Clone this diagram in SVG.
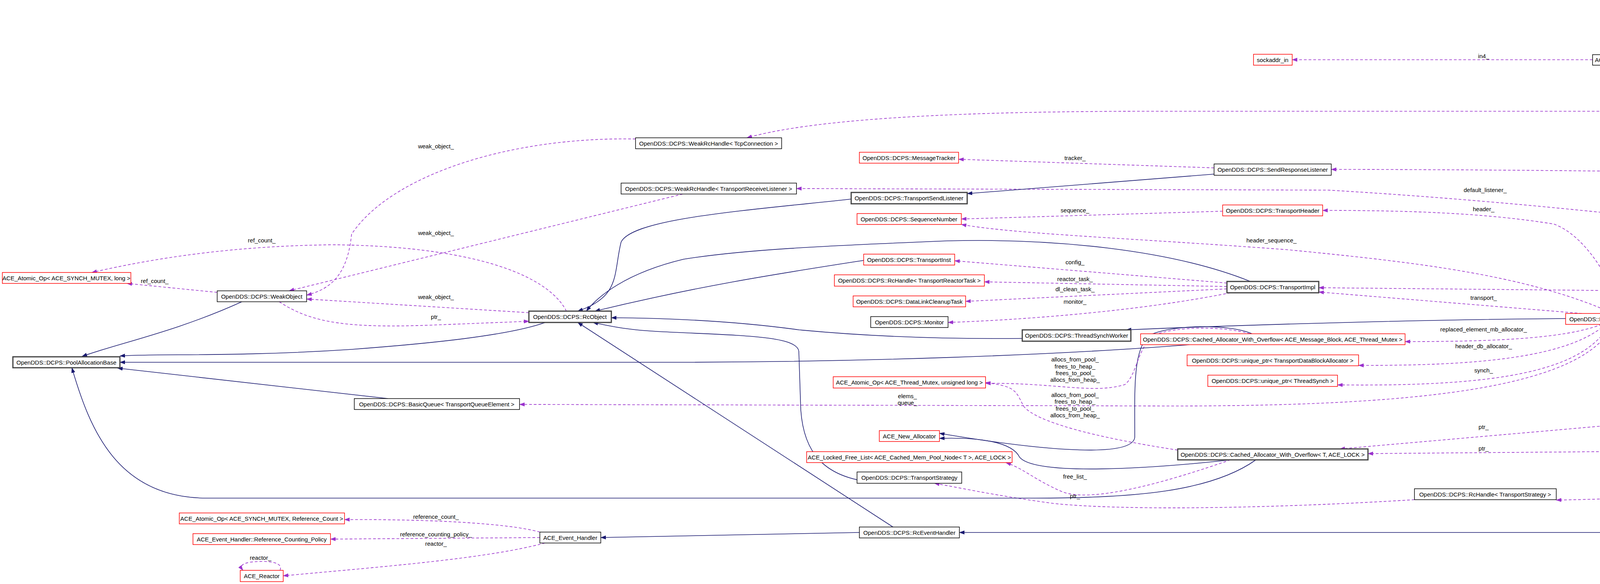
<svg xmlns="http://www.w3.org/2000/svg" width="6928" height="1496" viewBox="0 0 6928 1496">
<style>
.n rect{fill:#fff;stroke:#000;stroke-width:1.5}
.n.r rect{stroke:#ff0000}
.n.g rect{stroke:#404040;stroke-width:3}
.n.m rect{fill:#bfbfbf;stroke:#404040;stroke-width:2}
.n.l rect{stroke:#bfbfbf}
text{font-family:"Liberation Sans",Arial,sans-serif;font-size:15px;fill:#000;text-anchor:middle;dominant-baseline:central}
.e path{fill:none}
.u{stroke:#9a32cd;stroke-width:1.6;stroke-dasharray:7,5;marker-end:url(#ap)}
.i{stroke:#191970;stroke-width:1.6;marker-end:url(#ab)}
</style>
<defs>
<marker id="ap" markerWidth="14" markerHeight="10" refX="13" refY="5" orient="auto" markerUnits="userSpaceOnUse"><path d="M0,0 L14,5 L0,10 z" fill="#9a32cd"/></marker>
<marker id="ab" markerWidth="14" markerHeight="10" refX="13" refY="5" orient="auto" markerUnits="userSpaceOnUse"><path d="M0,0 L14,5 L0,10 z" fill="#191970"/></marker>
</defs>
<rect width="6928" height="1496" fill="#fff"/>
<g class="e" id="edges">
<path class="u" d="M6559,320 L6326,286"/>
<path class="i" d="M6559,316 L6009,354"/>
<path class="u" d="M6175,271 C6100,200 5950,140 5592,88"/>
<path class="u" d="M6098,274 L5589,213"/>
<path class="u" d="M6098,285 L2950,285 C2500,285 2100,300 1912,353"/>
<path class="i" d="M6098,295 C5760,330 5700,340 5680,370 C5600,500 5540,650 5527,743"/>
<path class="i" d="M5386,59 L5069,30"/>
<path class="i" d="M5464,203 L4999,182"/>
<path class="u" d="M5480,192 C5300,100 5100,90 4955,95 C4600,95 4400,120 4239,140"/>
<path class="u" d="M5464,218 C5400,245 5250,245 5053,240"/>
<path class="u" d="M4860,222 L4239,162"/>
<path class="u" d="M4077,153 L3308,153"/>
<path class="u" d="M4990,166 C5010,130 4910,130 4925,166"/>
<path class="u" d="M5010,382 C5030,345 4890,345 4905,382"/>
<path class="u" d="M5715,354 C5400,360 5150,365 5023,386"/>
<path class="u" d="M5525,743 C5500,600 5420,420 5200,410 L5023,400"/>
<path class="u" d="M5515,743 C5480,620 5400,470 5200,440 L5023,405"/>
<path class="u" d="M5440,743 C5300,600 5200,470 5150,457 C4500,440 3800,434 3408,434"/>
<path class="u" d="M5440,743 C5200,680 4300,540 3400,487 L2039,483"/>
<path class="u" d="M5423,757 L3376,737"/>
<path class="u" d="M5423,765 L5154,787"/>
<path class="u" d="M5470,771 C5200,880 4700,950 4535,1043"/>
<path class="u" d="M5500,771 C5350,950 5000,1100 4535,1139"/>
<path class="u" d="M5515,771 C5400,1000 5200,1260 3984,1281"/>
<path class="u" d="M5630,755 L6467,758"/>
<path class="u" d="M6034,791 L5630,766"/>
<path class="u" d="M6520,775 L6388,786"/>
<path class="i" d="M5520,771 C5450,1100 5200,1364 4962,1364 L2456,1364"/>
<path class="u" d="M4760,805 L4308,815"/>
<path class="u" d="M4050,803 L3376,748"/>
<path class="u" d="M4150,803 C4120,700 4050,600 3978,574 C3800,545 3600,539 3386,539"/>
<path class="u" d="M4130,803 C3900,700 3600,670 3300,640 C2900,610 2600,600 2461,575"/>
<path class="u" d="M4100,831 C4000,870 3800,875 3597,875"/>
<path class="u" d="M4110,831 C4000,930 3700,936 3478,936"/>
<path class="u" d="M4120,831 C4050,960 3800,990 3424,986"/>
<path class="u" d="M4130,831 C4050,1000 3600,1040 3000,1040 L1330,1036"/>
<path class="i" d="M4008,816 C3500,820 3000,840 2883,845"/>
<path class="u" d="M4346,1070 L3430,1150"/>
<path class="u" d="M4333,1155 L3502,1162"/>
<path class="i" d="M3150,1178 C2950,1200 2650,1220 2610,1171 C2590,1130 2500,1120 2405,1123"/>
<path class="i" d="M3205,855 C3150,830 3000,830 2940,860 C2900,900 2905,1000 2905,1120 C2900,1170 2700,1160 2405,1110"/>
<path class="u" d="M3015,1153 C2800,1120 2650,1080 2620,1040 C2600,1000 2600,990 2523,980"/>
<path class="u" d="M3200,855 C3130,835 3010,835 2950,860 C2910,900 2910,960 2880,985 C2800,1010 2700,980 2523,982"/>
<path class="u" d="M3150,1178 C3000,1230 2800,1290 2720,1260 C2650,1230 2620,1200 2575,1185"/>
<path class="u" d="M3621,1280 C3300,1300 2900,1310 2700,1290 C2550,1270 2460,1250 2392,1238"/>
<path class="i" d="M3215,1178 C3100,1260 2900,1276 2650,1276 L530,1276 C300,1276 230,1100 184,942"/>
<path class="i" d="M3045,883 C2700,910 2200,928 1700,928 L307,928"/>
<path class="i" d="M3108,446 L2476,496"/>
<path class="u" d="M3108,430 L2454,408"/>
<path class="u" d="M3130,541 L2461,561"/>
<path class="u" d="M3141,725 L2444,668"/>
<path class="u" d="M3141,734 L2520,722"/>
<path class="u" d="M3141,740 L2472,772"/>
<path class="u" d="M3150,750 C2900,800 2600,820 2427,826"/>
<path class="i" d="M3201,721 C3000,640 2700,610 2425,617 C2100,630 1900,640 1750,664 C1600,700 1530,760 1501,797"/>
<path class="i" d="M2179,510 C1900,540 1620,560 1590,620 C1570,700 1590,760 1479,797"/>
<path class="i" d="M2211,667 C2000,700 1800,730 1523,797"/>
<path class="i" d="M2617,867 C2300,870 2100,850 2046,845 C1900,825 1750,815 1565,814"/>
<path class="i" d="M2258,1237 C2100,1230 2057,1150 2050,1050 L2045,900 C2040,860 1900,860 1700,850 C1600,845 1560,835 1518,826"/>
<path class="i" d="M2286,1350 L1479,826"/>
<path class="i" d="M1396,826 C1300,860 1100,880 900,895 C600,915 400,905 307,912"/>
<path class="i" d="M619,773 C450,850 300,880 210,913"/>
<path class="i" d="M993,1021 L301,943"/>
<path class="i" d="M2200,1364 L1538,1377"/>
<path class="u" d="M1382,1363 C1300,1340 1100,1330 882,1331"/>
<path class="u" d="M1382,1377 L846,1381"/>
<path class="u" d="M1395,1391 C1250,1430 1000,1450 725,1475"/>
<path class="u" d="M717,1461 C725,1440 690,1435 640,1440 C615,1445 615,1452 622,1461"/>
<path class="u" d="M1354,801 L785,766"/>
<path class="u" d="M715,773 C800,830 900,840 1100,833 L1354,823"/>
<path class="u" d="M556,749 L325,726"/>
<path class="u" d="M1450,797 C1400,700 1200,630 850,627 C600,630 400,660 235,698"/>
<path class="u" d="M1627,356 C1300,350 1000,450 900,600 C890,700 850,740 785,756"/>
<path class="u" d="M1748,497 L740,745"/>
</g>
<g id="labels">
<text x="6423" y="291">link_</text>
<text x="5861" y="114">release_is_pending_</text>
<text x="5861" y="220">remote_address_</text>
<text x="4154" y="275">connection_</text>
<text x="4955" y="86">inet_addr_</text>
<text x="5258" y="210">inet_addrs_iter_</text>
<text x="5258" y="227">inet_addrs_</text>
<text x="4534" y="163">elements</text>
<text x="3798" y="143">in4_</text>
<text x="4957" y="131">sap_any</text>
<text x="4957" y="330">max_time</text>
<text x="4957" y="347">zero</text>
<text x="5258" y="352">timeout_</text>
<text x="5258" y="383">scheduled_to_stop_at_</text>
<text x="5258" y="400">datalink_release_delay_</text>
<text x="4534" y="428">send_response_listener_</text>
<text x="3802" y="486">default_listener_</text>
<text x="3798" y="535">header_</text>
<text x="4531" y="734">impl_</text>
<text x="5258" y="762">send_strategy_</text>
<text x="4955" y="864">db_allocator_</text>
<text x="4955" y="999">mb_allocator_</text>
<text x="4534" y="1227">receive_strategy_</text>
<text x="6208" y="743">thr_per_con_send_task_</text>
<text x="5861" y="764">link_</text>
<text x="6425" y="771">ptr_</text>
<text x="4534" y="795">ptr_</text>
<text x="3798" y="762">transport_</text>
<text x="3255" y="615">header_sequence_</text>
<text x="3798" y="843">replaced_element_mb_allocator_</text>
<text x="3798" y="886">header_db_allocator_</text>
<text x="3798" y="948">synch_</text>
<text x="2323" y="1014">elems_</text>
<text x="2323" y="1031">queue_</text>
<text x="3798" y="1093">ptr_</text>
<text x="3798" y="1148">ptr_</text>
<text x="2752" y="920">allocs_from_pool_</text>
<text x="2752" y="938">frees_to_heap_</text>
<text x="2752" y="955">frees_to_pool_</text>
<text x="2752" y="972">allocs_from_heap_</text>
<text x="2752" y="1011">allocs_from_pool_</text>
<text x="2752" y="1028">frees_to_heap_</text>
<text x="2752" y="1046">frees_to_pool_</text>
<text x="2752" y="1063">allocs_from_heap_</text>
<text x="2752" y="1220">free_list_</text>
<text x="2752" y="1270">ptr_</text>
<text x="2752" y="404">tracker_</text>
<text x="2752" y="538">sequence_</text>
<text x="2752" y="671">config_</text>
<text x="2752" y="714">reactor_task_</text>
<text x="2752" y="740">dl_clean_task_</text>
<text x="2752" y="772">monitor_</text>
<text x="1116" y="1323">reference_count_</text>
<text x="1116" y="1368">reference_counting_policy_</text>
<text x="1116" y="1392">reactor_</text>
<text x="667" y="1428">reactor_</text>
<text x="1116" y="760">weak_object_</text>
<text x="1116" y="811">ptr_</text>
<text x="396" y="719">ref_count_</text>
<text x="670" y="615">ref_count_</text>
<text x="1116" y="374">weak_object_</text>
<text x="1116" y="596">weak_object_</text>
</g>
<g id="n1" class="n r"><rect x="6" y="698" width="329" height="28"/><text x="170" y="712">ACE_Atomic_Op&lt; ACE_SYNCH_MUTEX, long &gt;</text></g>
<g id="n2" class="n"><rect x="556" y="745" width="229" height="28"/><text x="670" y="759">OpenDDS::DCPS::WeakObject</text></g>
<g id="n3" class="n g"><rect x="1354" y="797" width="211" height="29"/><text x="1459" y="811">OpenDDS::DCPS::RcObject</text></g>
<g id="n4" class="n g"><rect x="33" y="914" width="274" height="28"/><text x="170" y="928">OpenDDS::DCPS::PoolAllocationBase</text></g>
<g id="n5" class="n"><rect x="907" y="1021" width="423" height="28"/><text x="1118" y="1035">OpenDDS::DCPS::BasicQueue&lt; TransportQueueElement &gt;</text></g>
<g id="n6" class="n r"><rect x="459" y="1314" width="423" height="28"/><text x="670" y="1328">ACE_Atomic_Op&lt; ACE_SYNCH_MUTEX, Reference_Count &gt;</text></g>
<g id="n7" class="n r"><rect x="494" y="1367" width="352" height="28"/><text x="670" y="1381">ACE_Event_Handler::Reference_Counting_Policy</text></g>
<g id="n8" class="n"><rect x="1382" y="1363" width="156" height="28"/><text x="1460" y="1377">ACE_Event_Handler</text></g>
<g id="n9" class="n r"><rect x="615" y="1461" width="110" height="29"/><text x="670" y="1475">ACE_Reactor</text></g>
<g id="n10" class="n"><rect x="1627" y="353" width="374" height="28"/><text x="1814" y="367">OpenDDS::DCPS::WeakRcHandle&lt; TcpConnection &gt;</text></g>
<g id="n11" class="n"><rect x="1590" y="469" width="449" height="28"/><text x="1814" y="483">OpenDDS::DCPS::WeakRcHandle&lt; TransportReceiveListener &gt;</text></g>
<g id="n12" class="n r"><rect x="2200" y="390" width="254" height="28"/><text x="2327" y="404">OpenDDS::DCPS::MessageTracker</text></g>
<g id="n13" class="n"><rect x="3108" y="420" width="300" height="29"/><text x="3258" y="434">OpenDDS::DCPS::SendResponseListener</text></g>
<g id="n14" class="n g"><rect x="2179" y="493" width="297" height="29"/><text x="2327" y="507">OpenDDS::DCPS::TransportSendListener</text></g>
<g id="n15" class="n r"><rect x="2194" y="547" width="267" height="28"/><text x="2327" y="561">OpenDDS::DCPS::SequenceNumber</text></g>
<g id="n16" class="n r"><rect x="3130" y="525" width="256" height="28"/><text x="3258" y="539">OpenDDS::DCPS::TransportHeader</text></g>
<g id="n17" class="n r"><rect x="2211" y="651" width="233" height="28"/><text x="2327" y="665">OpenDDS::DCPS::TransportInst</text></g>
<g id="n18" class="n r"><rect x="2136" y="704" width="384" height="29"/><text x="2328" y="718">OpenDDS::DCPS::RcHandle&lt; TransportReactorTask &gt;</text></g>
<g id="n19" class="n r"><rect x="2184" y="758" width="288" height="28"/><text x="2328" y="772">OpenDDS::DCPS::DataLinkCleanupTask</text></g>
<g id="n20" class="n"><rect x="2229" y="811" width="198" height="28"/><text x="2328" y="825">OpenDDS::DCPS::Monitor</text></g>
<g id="n21" class="n g"><rect x="3141" y="721" width="235" height="29"/><text x="3258" y="735">OpenDDS::DCPS::TransportImpl</text></g>
<g id="n22" class="n g"><rect x="2617" y="845" width="278" height="29"/><text x="2756" y="859">OpenDDS::DCPS::ThreadSynchWorker</text></g>
<g id="n23" class="n r"><rect x="2920" y="855" width="677" height="28"/><text x="3258" y="869">OpenDDS::DCPS::Cached_Allocator_With_Overflow&lt; ACE_Message_Block, ACE_Thread_Mutex &gt;</text></g>
<g id="n24" class="n r"><rect x="3039" y="909" width="439" height="28"/><text x="3258" y="923">OpenDDS::DCPS::unique_ptr&lt; TransportDataBlockAllocator &gt;</text></g>
<g id="n25" class="n r"><rect x="3092" y="961" width="332" height="29"/><text x="3258" y="975">OpenDDS::DCPS::unique_ptr&lt; ThreadSynch &gt;</text></g>
<g id="n26" class="n r"><rect x="2133" y="965" width="390" height="29"/><text x="2328" y="979">ACE_Atomic_Op&lt; ACE_Thread_Mutex, unsigned long &gt;</text></g>
<g id="n27" class="n r"><rect x="2251" y="1103" width="154" height="28"/><text x="2328" y="1117">ACE_New_Allocator</text></g>
<g id="n28" class="n r"><rect x="2065" y="1157" width="526" height="28"/><text x="2328" y="1171">ACE_Locked_Free_List&lt; ACE_Cached_Mem_Pool_Node&lt; T &gt;, ACE_LOCK &gt;</text></g>
<g id="n29" class="n"><rect x="2194" y="1209" width="268" height="29"/><text x="2328" y="1223">OpenDDS::DCPS::TransportStrategy</text></g>
<g id="n30" class="n g"><rect x="3015" y="1150" width="487" height="28"/><text x="3258" y="1164">OpenDDS::DCPS::Cached_Allocator_With_Overflow&lt; T, ACE_LOCK &gt;</text></g>
<g id="n31" class="n"><rect x="2200" y="1350" width="256" height="28"/><text x="2328" y="1364">OpenDDS::DCPS::RcEventHandler</text></g>
<g id="n32" class="n g"><rect x="4845" y="6" width="224" height="28"/><text x="4957" y="20">ACE_Atomic_Op_GCC&lt; bool &gt;</text></g>
<g id="n33" class="n"><rect x="4077" y="140" width="162" height="27"/><text x="4158" y="153">ACE_INET_Addr::ip46</text></g>
<g id="n34" class="n g"><rect x="4914" y="166" width="85" height="28"/><text x="4956" y="180">ACE_Addr</text></g>
<g id="n35" class="n l"><rect x="4860" y="219" width="193" height="28"/><text x="4956" y="233">std::vector&lt; union ip46 &gt;</text></g>
<g id="n36" class="n g"><rect x="4891" y="382" width="132" height="28"/><text x="4957" y="396">ACE_Time_Value</text></g>
<g id="n37" class="n r"><rect x="4008" y="803" width="300" height="28"/><text x="4158" y="817">OpenDDS::DCPS::TransportSendStrategy</text></g>
<g id="n38" class="n"><rect x="4760" y="787" width="394" height="28"/><text x="4957" y="801">OpenDDS::DCPS::RcHandle&lt; TransportSendStrategy &gt;</text></g>
<g id="n39" class="n"><rect x="4346" y="1043" width="377" height="29"/><text x="4534" y="1057">OpenDDS::DCPS::unique_ptr&lt; DataBlockAllocator &gt;</text></g>
<g id="n40" class="n"><rect x="4333" y="1139" width="403" height="29"/><text x="4534" y="1153">OpenDDS::DCPS::unique_ptr&lt; MessageBlockAllocator &gt;</text></g>
<g id="n41" class="n"><rect x="3621" y="1252" width="363" height="28"/><text x="3802" y="1266">OpenDDS::DCPS::RcHandle&lt; TransportStrategy &gt;</text></g>
<g id="n42" class="n"><rect x="5363" y="59" width="327" height="28"/><text x="5526" y="73">ACE_Atomic_Op&lt; ACE_Thread_Mutex, bool &gt;</text></g>
<g id="n43" class="n"><rect x="5464" y="192" width="125" height="29"/><text x="5526" y="206">ACE_INET_Addr</text></g>
<g id="n44" class="n"><rect x="6098" y="271" width="228" height="28"/><text x="6212" y="285">OpenDDS::DCPS::TcpDataLink</text></g>
<g id="n45" class="n m"><rect x="6559" y="306" width="270" height="28"/><text x="6694" y="320">OpenDDS::DCPS::TcpSynchResource</text></g>
<g id="n46" class="n"><rect x="5715" y="339" width="294" height="28"/><text x="5862" y="353">OpenDDS::DCPS::ThreadSynchResource</text></g>
<g id="n47" class="n"><rect x="5423" y="743" width="207" height="28"/><text x="5526" y="757">OpenDDS::DCPS::DataLink</text></g>
<g id="n48" class="n"><rect x="6467" y="746" width="454" height="29"/><text x="6694" y="760">OpenDDS::DCPS::unique_ptr&lt; ThreadPerConnectionSendTask &gt;</text></g>
<g id="n49" class="n r"><rect x="6034" y="786" width="354" height="28"/><text x="6211" y="800">OpenDDS::DCPS::ThreadPerConnectionSendTask</text></g>
<g id="n50" class="n r"><rect x="3209" y="139" width="99" height="28"/><text x="3258" y="153">sockaddr_in</text></g>
</svg>
